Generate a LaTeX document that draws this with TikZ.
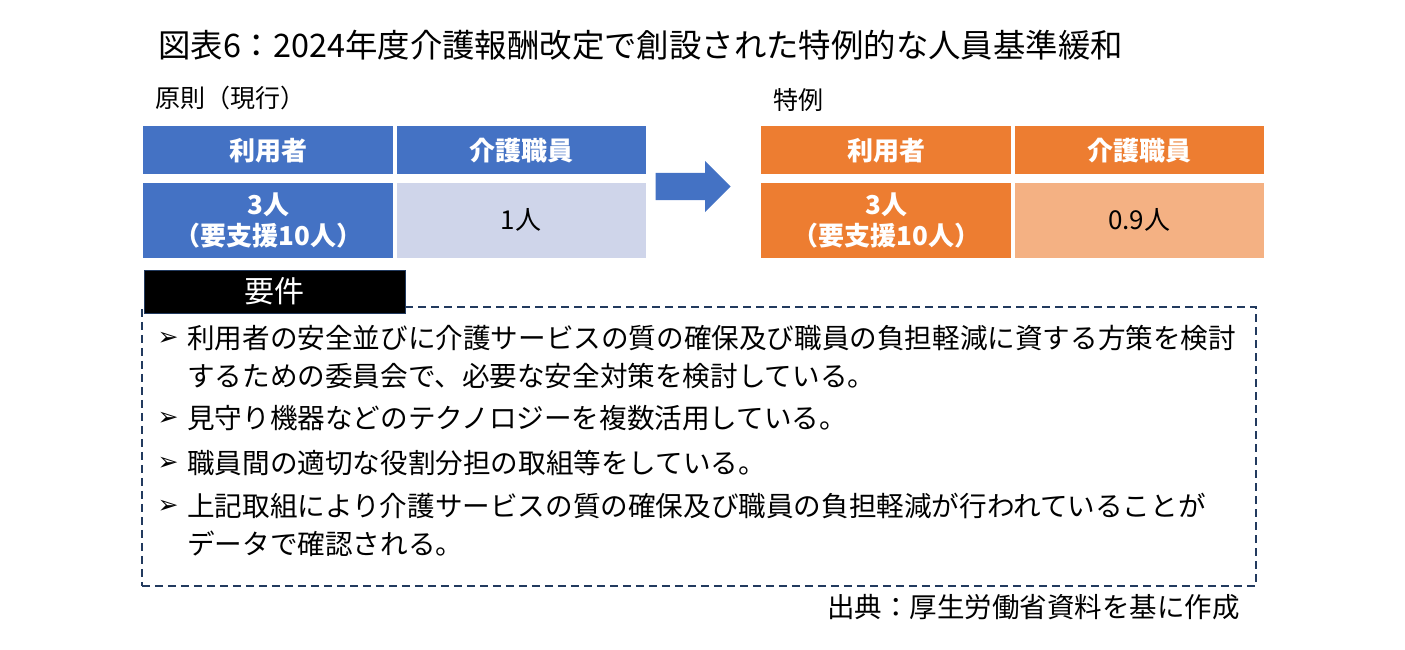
\documentclass[tikz,border=0pt]{standalone}
\usepackage{fontspec}
\setmainfont{Noto Sans CJK JP}
\newfontfamily\symfont{DejaVu Sans}
\usepackage{tikz}
\usetikzlibrary{positioning,shapes.arrows}

\definecolor{kblue}{HTML}{4472C4}
\definecolor{kpaleblue}{HTML}{CFD5EA}
\definecolor{korange}{HTML}{ED7D31}
\definecolor{kpaleorange}{HTML}{F4B183}
\definecolor{knavy}{HTML}{223A5E}

\begin{document}
\begin{tikzpicture}[
  x=1pt, y=-1pt, node distance=8pt and 3pt,
  cell/.style={inner sep=0pt, align=center, minimum width=250pt},
  headcell/.style={cell, minimum height=48pt, text=white, font=\fontsize{26}{30}\selectfont\bfseries},
  bodycell/.style={cell, minimum height=75pt, font=\fontsize{26}{31}\selectfont},
  strong/.style={bodycell, text=white, font=\fontsize{26}{31}\selectfont\bfseries},
  caption/.style={anchor=west, inner sep=0pt, font=\fontsize{25}{30}\selectfont},
  marker/.style={inner sep=0pt, font=\symfont\fontsize{25}{28}\selectfont},
  item/.style={anchor=west, inner sep=0pt, align=left, font=\fontsize{27.6}{38}\selectfont}]
\useasboundingbox (0,0) rectangle (1405,649);
\node[anchor=west, inner sep=0pt, font=\fontsize{32.4}{36}\selectfont] (title) at (158,45)
  {図表6：2024年度介護報酬改定で創設された特例的な人員基準緩和};
% principle table
\node[caption] (rule) at (155,98) {原則（現行）};
\node[headcell, fill=kblue, anchor=north west] (rhuser) at (143,126) {利用者};
\node[headcell, fill=kblue, minimum width=249pt, right=of rhuser] (rhstaff) {介護職員};
\node[strong, fill=kblue, below=of rhuser] (rbuser) {3人\\（要支援10人）};
\node[bodycell, fill=kpaleblue, minimum width=249pt, below=of rhstaff] (rbstaff) {1人};
% special table
\node[caption] (spec) at (773,100) {特例};
\node[headcell, fill=korange, anchor=north west] (shuser) at (761,126) {利用者};
\node[headcell, fill=korange, minimum width=249pt, right=of shuser] (shstaff) {介護職員};
\node[strong, fill=korange, below=of shuser] (sbuser) {3人\\（要支援10人）};
\node[bodycell, fill=kpaleorange, minimum width=249pt, below=of shstaff] (sbstaff) {0.9人};
\node[single arrow, fill=kblue, inner xsep=0pt, inner ysep=13.5pt, minimum height=75pt,
  single arrow head extend=12pt, single arrow tip angle=90, anchor=tip] (shift) at (731,186.5) {};
% requirements
\node[draw=knavy, line width=1.5pt, dash pattern=on 8pt off 5pt, anchor=north west,
  minimum width=1114pt, minimum height=279pt] (frame) at (141,306) {};
\node[fill=black, draw=knavy, line width=1pt, text=white, anchor=north west,
  minimum width=261pt, minimum height=43pt, inner sep=0pt, font=\fontsize{30}{34}\selectfont] (req) at (143.5,269.5) {要件};
\node[marker] (m1) at (168,339) {➢};
\node[item] (t1) at (187,357) {利用者の安全並びに介護サービスの質の確保及び職員の負担軽減に資する方策を検討\\するための委員会で、必要な安全対策を検討している。};
\node[marker] (m2) at (168,419) {➢};
\node[item] (t2) at (187,418) {見守り機器などのテクノロジーを複数活用している。};
\node[marker] (m3) at (168,464) {➢};
\node[item] (t3) at (187,463) {職員間の適切な役割分担の取組等をしている。};
\node[marker] (m4) at (168,507) {➢};
\node[item] (t4) at (187,525) {上記取組により介護サービスの質の確保及び職員の負担軽減が行われていることが\\データで確認される。};
\node[anchor=east, inner sep=0pt, font=\fontsize{27.5}{32}\selectfont] (src) at (1240,607) {出典：厚生労働省資料を基に作成};
\end{tikzpicture}
\end{document}
